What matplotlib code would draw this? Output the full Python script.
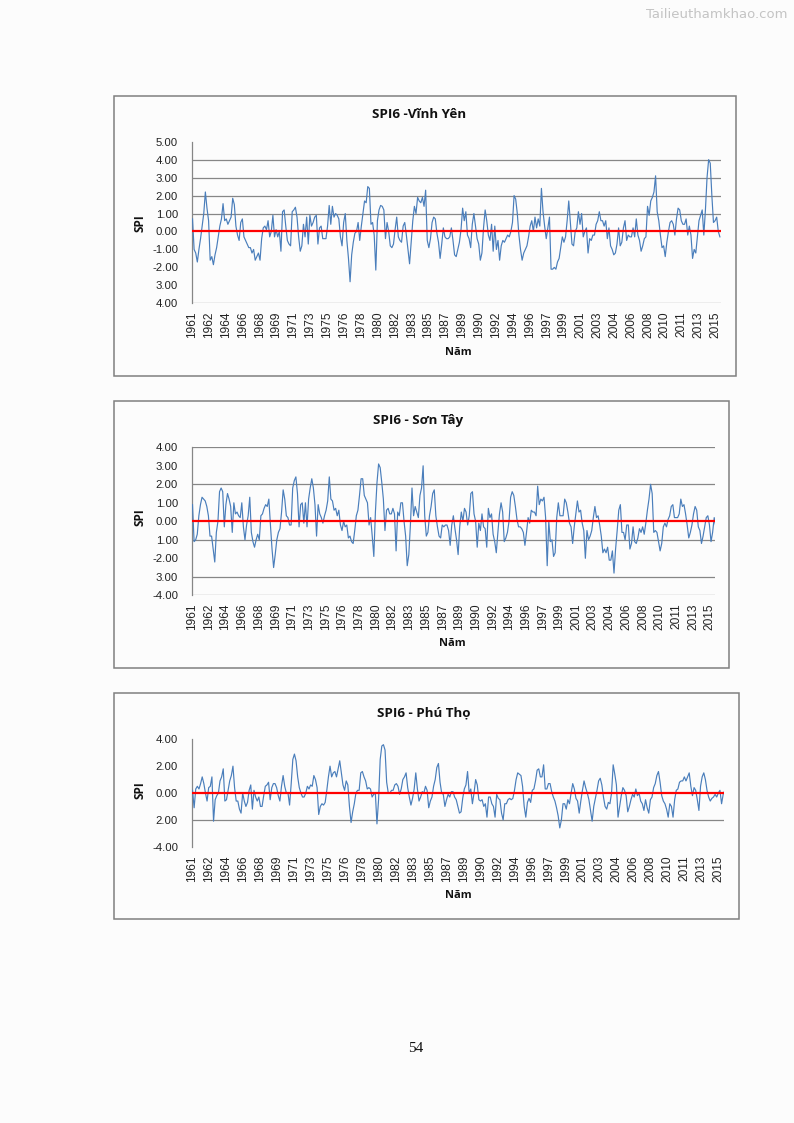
import matplotlib
matplotlib.use("Agg")
import matplotlib.pyplot as plt
from matplotlib.patches import Rectangle
import numpy as np

# ---------------- DATA (bimonthly SPI6 values, 1961-2015, 6 per year) -------------
vinh_yen = [
    0.7, -1.0, -1.2, -1.7, -1.0, -0.4,     # 1961
    0.3, 1.0, 2.2, 1.3, 0.6, -1.6,         # 1962
    -1.4, -1.85, -1.3, -0.9, -0.3, 0.3,    # 1963
    0.7, 1.55, 0.6, 0.7, 0.4, 0.6,         # 1964
    0.8, 1.85, 1.5, 0.3, -0.2, -0.5,       # 1965
    0.5, 0.7, -0.3, -0.5, -0.7, -0.9,      # 1966
    -0.9, -1.2, -1.0, -1.6, -1.4, -1.2,    # 1967
    -1.6, -0.4, 0.2, 0.3, 0.1, 0.6,        # 1968
    -0.3, 0.0, 0.9, -0.3, 0.1, -0.3,       # 1969
    0.0, -1.1, 1.1, 1.2, 0.3, -0.5,        # 1970
    -0.7, -0.8, 1.1, 1.2, 1.35, 0.8,       # 1971
    -0.3, -1.1, -0.8, 0.4, -0.3, 0.8,      # 1972
    -0.7, 0.9, 0.3, 0.5, 0.8, 0.9,         # 1973
    -0.7, 0.2, 0.3, -0.4, -0.4, -0.4,      # 1974
    0.3, 1.45, 0.4, 1.4, 0.8, 1.0,         # 1975
    0.9, 0.7, -0.3, -0.8, 0.5, 1.0,        # 1976
    -0.5, -1.5, -2.8, -1.3, -0.6, -0.1,    # 1977
    0.0, 0.5, -0.5, 0.3, 1.0, 1.7,         # 1978
    1.6, 2.5, 2.4, 0.4, 0.5, -0.2,         # 1979
    -2.15, 0.6, 1.2, 1.45, 1.4, 1.2,       # 1980
    -0.4, 0.5, 0.0, -0.8, -0.9, -0.7,      # 1981
    0.1, 0.8, -0.3, -0.5, -0.6, 0.3,       # 1982
    0.5, -0.2, -1.0, -1.8, -0.6, 0.6,      # 1983
    1.4, 1.0, 1.9, 1.7, 1.6, 1.9,          # 1984
    1.4, 2.3, -0.5, -0.9, -0.4, 0.5,       # 1985
    0.8, 0.7, -0.1, -0.6, -1.5, -0.7,      # 1986
    0.2, -0.3, -0.4, -0.4, -0.3, 0.2,      # 1987
    -0.5, -1.3, -1.4, -1.0, -0.6, 0.1,     # 1988
    1.3, 0.6, 1.1, -0.2, -0.4, -0.9,       # 1989
    0.4, 1.0, 0.3, -0.4, -0.7, -1.6,       # 1990
    -1.2, 0.2, 1.2, 0.6, -0.2, -0.5,       # 1991
    0.4, -1.1, 0.3, -1.0, -0.5, -1.6,      # 1992
    -0.8, -0.5, -0.6, -0.4, -0.2, -0.3,    # 1993
    0.0, 0.5, 2.0, 1.8, 1.0, -0.2,         # 1994
    -1.0, -1.6, -1.2, -1.0, -0.8, -0.3,    # 1995
    0.3, 0.6, 0.0, 0.8, 0.2, 0.7,          # 1996
    0.3, 2.4, 1.1, 0.3, -0.4, 0.2,         # 1997
    0.8, -2.1, -2.1, -2.0, -2.1, -1.7,     # 1998
    -1.5, -0.9, -0.3, -0.6, -0.3, 0.6,     # 1999
    1.7, 0.5, -0.7, -0.8, 0.0, 0.2,        # 2000
    1.1, 0.4, 1.0, -0.3, 0.0, 0.2,         # 2001
    -1.2, -0.4, -0.5, -0.2, -0.2, 0.4,     # 2002
    0.6, 1.1, 0.6, 0.6, 0.3, 0.6,          # 2003
    -0.4, 0.2, -0.8, -1.0, -1.3, -1.2,     # 2004
    -0.7, 0.2, -0.8, -0.6, 0.2, 0.6,       # 2005
    -0.5, -0.2, -0.3, -0.3, 0.2, -0.3,     # 2006
    0.7, -0.2, -0.5, -1.1, -0.8, -0.4,     # 2007
    -0.3, 1.4, 0.9, 1.7, 1.9, 2.2,         # 2008
    3.1, 1.1, 0.6, -0.2, -0.9, -0.8,       # 2009
    -1.4, -0.6, 0.0, 0.5, 0.6, 0.4,        # 2010
    -0.2, 0.7, 1.3, 1.2, 0.6, 0.4,         # 2011
    0.4, 0.7, -0.2, 0.3, -0.2, -1.5,       # 2012
    -1.0, -1.2, -0.3, 0.6, 0.9, 1.2,       # 2013
    -0.2, 1.2, 3.0, 4.0, 3.8, 2.0,         # 2014
    0.5, 0.6, 0.8, 0.0, -0.3,              # 2015
]

son_tay = [
    0.9, -1.1, -1.0, -0.7, 0.3, 0.9,       # 1961
    1.3, 1.2, 1.1, 0.8, 0.3, -0.8,         # 1962
    -0.8, -1.5, -2.2, -0.6, 0.0, 1.6,      # 1963
    1.8, 1.6, -0.3, 0.9, 1.5, 1.2,         # 1964
    0.8, -0.6, 1.0, 0.4, 0.5, 0.3,         # 1965
    0.2, 1.0, -0.3, -1.0, -0.2, 0.3,       # 1966
    1.3, -0.6, -1.1, -1.4, -1.0, -0.7,     # 1967
    -1.0, 0.3, 0.4, 0.7, 0.9, 0.8,         # 1968
    1.2, -0.2, -1.5, -2.5, -1.8, -1.0,     # 1969
    -0.6, -0.4, 0.5, 1.7, 1.2, 0.3,        # 1970
    0.2, -0.2, -0.2, 1.8, 2.2, 2.4,        # 1971
    1.5, -0.3, 0.9, 1.0, -0.1, 1.0,        # 1972
    -0.3, 1.2, 1.8, 2.3, 1.8, 0.9,         # 1973
    -0.8, 0.9, 0.4, 0.2, -0.1, 0.3,        # 1974
    0.6, 1.1, 2.4, 1.2, 1.1, 0.6,          # 1975
    0.7, 0.3, 0.6, -0.2, -0.5, 0.0,        # 1976
    -0.3, -0.2, -0.9, -0.8, -1.1, -1.2,    # 1977
    -0.5, 0.3, 0.6, 1.4, 2.3, 2.3,         # 1978
    1.4, 1.2, 1.0, -0.2, 0.2, -0.8,        # 1979
    -1.9, 0.5, 2.1, 3.1, 2.9, 2.1,         # 1980
    1.2, -0.5, 0.6, 0.7, 0.4, 0.4,         # 1981
    0.7, 0.4, -1.6, 0.5, 0.3, 1.0,         # 1982
    1.0, 0.0, -0.8, -2.4, -1.8, -0.2,      # 1983
    1.8, 0.3, 0.8, 0.5, 0.2, 1.4,          # 1984
    1.8, 3.0, 0.3, -0.8, -0.6, 0.3,        # 1985
    0.8, 1.5, 1.7, 0.3, -0.3, -0.8,        # 1986
    -0.9, -0.2, -0.3, -0.2, -0.2, -0.5,    # 1987
    -1.3, -0.2, 0.3, -0.4, -1.0, -1.8,     # 1988
    -0.3, 0.5, 0.0, 0.7, 0.5, -0.2,        # 1989
    0.3, 1.5, 1.6, 0.4, 0.0, -1.4,         # 1990
    -0.1, -0.5, 0.4, -0.3, -0.4, -1.4,     # 1991
    0.7, 0.2, 0.4, -0.7, -1.1, -1.7,       # 1992
    -0.6, 0.4, 1.0, 0.5, -1.1, -0.9,       # 1993
    -0.6, 0.0, 1.3, 1.6, 1.4, 0.8,         # 1994
    0.1, -0.3, -0.3, -0.4, -0.6, -1.3,     # 1995
    -0.6, 0.2, -0.1, 0.6, 0.5, 0.5,        # 1996
    0.3, 1.9, 0.9, 1.2, 1.1, 1.3,          # 1997
    0.2, -2.4, 0.0, -1.1, -1.0, -1.9,      # 1998
    -1.7, 0.2, 1.0, 0.3, 0.3, 0.3,         # 1999
    1.2, 1.0, 0.5, -0.1, -0.3, -1.2,       # 2000
    -0.3, 0.4, 1.1, 0.5, 0.6, -0.1,        # 2001
    -0.5, -2.0, -0.5, -1.0, -0.8, -0.5,    # 2002
    0.2, 0.8, 0.2, 0.3, -0.2, -0.8,        # 2003
    -1.7, -1.5, -1.7, -1.4, -2.1, -2.1,    # 2004
    -1.6, -2.8, -1.5, -0.5, 0.6, 0.9,      # 2005
    -0.6, -0.6, -1.0, -0.2, -0.2, -1.5,    # 2006
    -1.2, -0.3, -1.1, -1.2, -0.9, -0.4,    # 2007
    -0.6, -0.3, -0.7, -0.1, 0.6, 1.2,      # 2008
    2.0, 1.5, -0.6, -0.5, -0.6, -1.1,      # 2009
    -1.6, -1.2, -0.3, -0.1, -0.3, 0.1,     # 2010
    0.3, 0.8, 0.9, 0.2, 0.2, 0.2,          # 2011
    0.4, 1.2, 0.8, 0.9, 0.4, -0.2,         # 2012
    -0.9, -0.6, -0.2, 0.4, 0.8, 0.6,       # 2013
    -0.3, -0.5, -1.2, -0.8, -0.3, 0.2,     # 2014
    0.3, -0.2, -1.1, -0.6, 0.2, -0.3,      # 2015
]

phu_tho = [
    0.2, -1.1, 0.3, 0.5, 0.3, 0.7,         # 1961
    1.2, 0.7, 0.0, -0.6, 0.4, 0.5,         # 1962
    1.2, -2.1, -0.5, -0.2, 0.0, 0.9,       # 1963
    1.2, 1.8, -0.6, -0.5, 0.2, 0.9,        # 1964
    1.3, 2.0, 0.4, -0.6, -0.6, -1.2,       # 1965
    -1.5, 0.0, -0.6, -1.0, -0.7, 0.2,      # 1966
    0.6, -1.2, 0.2, -0.3, -0.6, -0.3,      # 1967
    -1.0, -1.0, -0.2, 0.5, 0.6, 0.8,       # 1968
    -0.5, 0.4, 0.7, 0.7, 0.4, -0.2,        # 1969
    -0.6, 0.5, 1.3, 0.5, 0.0, 0.0,         # 1970
    -0.9, 0.7, 2.5, 2.9, 2.4, 1.2,         # 1971
    0.4, 0.0, -0.3, -0.3, 0.0, 0.5,        # 1972
    0.3, 0.6, 0.5, 1.3, 1.0, 0.4,          # 1973
    -1.6, -1.0, -0.8, -0.9, -0.7, 0.2,     # 1974
    1.2, 2.0, 1.2, 1.5, 1.6, 1.2,          # 1975
    1.8, 2.4, 1.5, 0.6, 0.2, 0.9,          # 1976
    0.6, -1.0, -2.2, -1.4, -0.8, 0.0,      # 1977
    0.2, 0.2, 1.5, 1.6, 1.2, 0.9,          # 1978
    0.3, 0.4, 0.3, -0.3, -0.1, 0.0,        # 1979
    -2.3, -0.5, 2.5, 3.5, 3.6, 3.2,        # 1980
    0.8, 0.0, 0.0, 0.2, 0.2, 0.6,          # 1981
    0.7, 0.5, -0.1, 0.3, 1.0, 1.2,         # 1982
    1.5, 0.4, -0.3, -0.9, -0.4, 0.3,       # 1983
    1.5, 0.3, -0.6, -0.3, 0.1, 0.0,        # 1984
    0.5, 0.2, -1.1, -0.6, -0.3, 0.5,       # 1985
    1.0, 1.9, 2.2, 0.8, 0.0, -0.1,         # 1986
    -1.0, -0.5, -0.1, -0.3, 0.1, 0.1,      # 1987
    -0.3, -0.5, -1.0, -1.5, -1.4, -0.4,    # 1988
    0.3, 0.6, 1.6, 0.0, 0.3, -0.8,         # 1989
    0.0, 1.0, 0.6, -0.5, -0.6, -0.5,       # 1990
    -1.0, -0.8, -1.8, -0.3, -0.3, -0.8,    # 1991
    -1.0, -1.8, -0.1, -0.4, -0.5, -1.5,    # 1992
    -2.0, -0.8, -0.8, -0.5, -0.4, -0.5,    # 1993
    -0.4, 0.2, 1.0, 1.5, 1.4, 1.3,         # 1994
    0.5, -1.0, -1.8, -0.7, -0.4, -0.7,     # 1995
    0.2, 0.3, 0.9, 1.7, 1.8, 1.2,          # 1996
    1.2, 2.1, 0.3, 0.3, 0.7, 0.7,          # 1997
    0.1, -0.3, -0.6, -1.1, -1.7, -2.6,     # 1998
    -2.0, -0.8, -0.8, -1.2, -0.5, -0.8,    # 1999
    0.0, 0.7, 0.3, -0.4, -0.6, -1.5,       # 2000
    -0.6, 0.2, 0.9, 0.4, 0.0, -0.5,        # 2001
    -1.3, -2.1, -1.0, -0.4, 0.2, 0.9,      # 2002
    1.1, 0.6, -0.3, -1.0, -1.2, -0.7,      # 2003
    -0.8, 0.0, 2.1, 1.4, 0.6, -1.8,        # 2004
    -1.0, -0.2, 0.4, 0.2, -0.2, -1.4,      # 2005
    -1.0, -0.5, -0.1, -0.3, 0.3, -0.2,     # 2006
    0.0, -0.6, -0.8, -1.3, -0.5, -1.1,     # 2007
    -1.5, -0.5, -0.3, 0.4, 0.7, 1.3,       # 2008
    1.6, 0.8, -0.2, -0.6, -0.8, -1.2,      # 2009
    -1.8, -0.8, -1.0, -1.8, -0.5, 0.2,     # 2010
    0.3, 0.8, 0.9, 0.9, 1.2, 0.9,          # 2011
    1.2, 1.5, 0.5, -0.2, 0.4, 0.2,         # 2012
    -0.5, -1.3, 0.5, 1.2, 1.5, 1.0,        # 2013
    0.2, -0.3, -0.6, -0.4, -0.3, -0.1,     # 2014
    -0.3, 0.0, 0.2, -0.8, -0.1, 0.2,       # 2015
]

year_labels = ["1961", "1962", "1964", "1966", "1968", "1969", "1971", "1973",
               "1975", "1976", "1978", "1980", "1982", "1983", "1985", "1987",
               "1989", "1990", "1992", "1994", "1996", "1997", "1999", "2001",
               "2003", "2004", "2006", "2008", "2010", "2011", "2013", "2015"]

titles = ["SPI6 -V\u0129nh Y\u00ean", "SPI6 - S\u01a1n T\u00e2y", "SPI6 - Ph\u00fa Th\u1ecd"]

# y tick labels as printed in the page (some minus signs are lost in the print)
ytick_vals = [[5, 4, 3, 2, 1, 0, -1, -2, -3, -4],
              [4, 3, 2, 1, 0, -1, -2, -3, -4],
              [4, 2, 0, -2, -4]]
ytick_text = [["5.00", "4.00", "3.00", "2.00", "1.00", "0.00", "-1.00", "-2.00", "3.00", "4.00"],
              ["4.00", "3.00", "2.00", "1.00", "0.00", "1.00", "-2.00", "3.00", "-4.00"],
              ["4.00", "2.00", "0.00", "2.00", "-4.00"]]
grid_levels = [[4, 3, 2, 1, -4], [4, 2, -1, -3, -4], [-2]]
ylims = [(-4, 5), (-4, 4), (-4, 4)]

# ---------------- LAYOUT -----------------
W, H = 794, 1123
fig = plt.figure(figsize=(W / 100, H / 100), dpi=100)
fig.patch.set_facecolor("#fcfcfc")

boxes = [(113.5, 95.5, 736, 376), (113.5, 400.5, 729, 668), (113.5, 692.5, 739, 919)]
plots = [(191.7, 141.7, 720.7, 303.3), (191.7, 447.3, 715.0, 595.3), (191.7, 739.3, 724.0, 846.7)]
title_y = [115, 421, 713]
title_x = [419, 418, 424]
spi_y = [223, 517, 790]
nam_pos = [(458, 352), (452, 644), (458, 895)]

series = [vinh_yen, son_tay, phu_tho]
BLUE = "#4a7ebb"
GRID = "#868686"
TICKFONT = ["Liberation Sans"]
BOLDFONT = ["Open Sans", "DejaVu Sans"]

def fx(x):
    return x / W

def fy(y):
    return 1 - y / H

for k in range(3):
    bx0, by0, bx1, by1 = boxes[k]
    fig.patches.append(Rectangle((fx(bx0), fy(by1)), fx(bx1 - bx0), (by1 - by0) / H,
                                 transform=fig.transFigure, fill=False,
                                 ec="#808080", lw=1.1, zorder=0))
    px0, py0, px1, py1 = plots[k]
    ax = fig.add_axes([fx(px0), fy(py1), fx(px1 - px0), (py1 - py0) / H])
    ax.set_facecolor("none")
    vals = np.array(series[k])
    months = np.arange(len(vals)) * 2 + 1.0
    ax.plot(months, vals, color=BLUE, lw=0.85, zorder=3)
    ax.axhline(0, color="#ff0000", lw=1.6, zorder=4)
    for g in grid_levels[k]:
        ax.axhline(g, color=GRID, lw=0.9, zorder=1)
    ax.set_xlim(0, 658)
    ax.set_ylim(*ylims[k])
    for s in ["top", "right", "bottom"]:
        ax.spines[s].set_visible(False)
    ax.spines["left"].set_color(GRID)
    ax.spines["left"].set_linewidth(0.9)
    ax.set_yticks(ytick_vals[k])
    ax.set_yticklabels(ytick_text[k], fontsize=8.2, family=TICKFONT, color="#222222")
    ax.tick_params(axis="y", length=0, pad=9.8)
    ax.set_xticks(np.arange(len(year_labels)) * 21 + 0.5)
    ax.set_xticklabels(year_labels, rotation=90, fontsize=8.6, family=TICKFONT,
                       color="#222222")
    ax.tick_params(axis="x", length=0, pad=6)
    fig.text(fx(title_x[k]), fy(title_y[k]), titles[k], ha="center", va="center",
             fontsize=9.6, fontweight="bold", family=BOLDFONT, color="#111111")
    fig.text(fx(140), fy(spi_y[k]), "SPI", rotation=90, ha="center", va="center",
             fontsize=8.5, fontweight="bold", family=BOLDFONT, color="#111111")
    fig.text(fx(nam_pos[k][0]), fy(nam_pos[k][1]), "N\u0103m", ha="center", va="center",
             fontsize=8.0, fontweight="bold", family=BOLDFONT, color="#111111")

fig.text(fx(416), fy(1049), "54", ha="center", va="center", fontsize=11,
         family=["Liberation Serif"], color="#111111")
fig.text(fx(717), fy(15), "Tailieuthamkhao.com", ha="center", va="center", fontsize=9.5,
         family=["DejaVu Sans"], color="#c4c4c4")

fig.savefig("out.png", dpi=100, facecolor=fig.get_facecolor())
